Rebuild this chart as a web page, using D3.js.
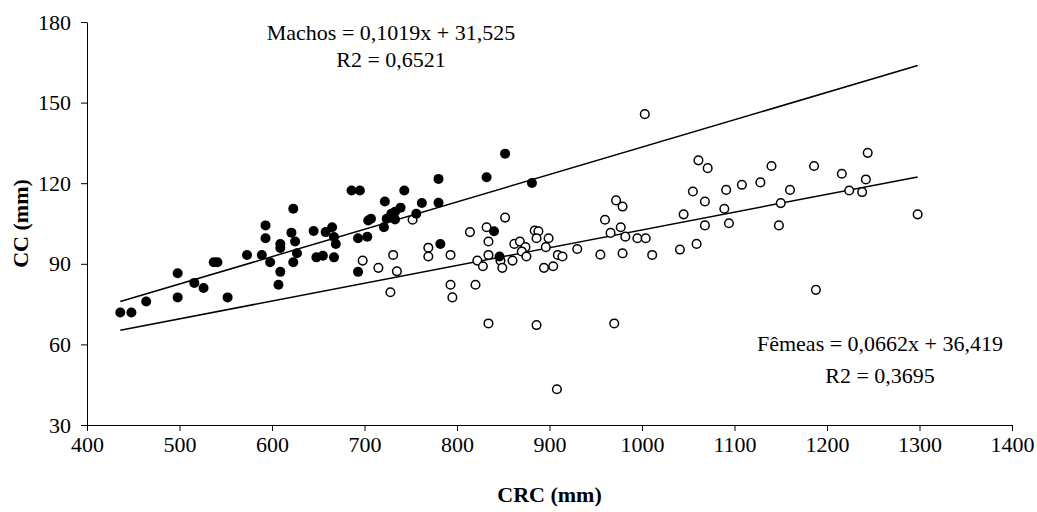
<!DOCTYPE html>
<html>
<head>
<meta charset="utf-8">
<script src="https://cdn.jsdelivr.net/npm/d3@7"></script>
<style>
  body { margin: 0; background: #fff; }
  svg text { font-family: "Liberation Serif", "DejaVu Serif", serif; fill: #000; }
  .axis path, .axis line { stroke: #000; stroke-width: 1; }
  .axis text { font-size: 22px; }
</style>
</head>
<body>
<svg id="chart" width="1037" height="512"></svg>
<script>
// CRC (mm) vs CC (mm), machos = filled, fêmeas = open
const machosCRC = [436, 448, 464, 498, 498, 516, 526, 537, 541, 552, 573, 589, 593, 593, 598,
  609, 609, 609, 607, 623, 621, 625, 627, 623, 645, 648, 655, 667, 658, 665, 667, 669,
  686, 695, 743, 780, 832, 852, 722, 881, 762, 780, 739, 733, 729, 724, 707, 704, 756,
  733, 721, 693, 703, 840, 782, 693, 846];
const machosCC = [71.9, 71.9, 76, 86.5, 77.5, 82.9, 81, 90.6, 90.6, 77.5, 93.3, 93.3, 104.3, 99.5, 90.6,
  97.4, 95.9, 87, 82.2, 110.5, 101.6, 98.3, 93.9, 90.6, 102.2, 92.4, 93, 92.4, 101.8, 103.6, 100, 97.4,
  117.3, 117.3, 117.3, 121.6, 122.2, 131, 113.2, 120.1, 112.6, 112.7, 110.9, 109.4, 108.6, 106.8, 106.8, 106.1, 108.6,
  106.5, 103.6, 99.5, 100.1, 102.1, 97.4, 87, 92.7];

const femeasCRC = [752, 852, 814, 832, 834, 884, 888, 886, 899, 862, 868, 874, 870, 875, 896,
  909, 914, 930, 769, 769, 793, 731, 698, 715, 735, 822, 828, 834, 847, 849, 860, 894, 904,
  728, 793, 795, 820, 834, 886, 908, 1003, 1061, 1071, 1140, 1186, 1216, 1055, 1091, 1108,
  1128, 1160, 972, 979, 1068, 1089, 1150, 1045, 960, 977, 966, 982, 995, 1004, 1068, 1094,
  1148, 955, 979, 1011, 1041, 1059, 1188, 970, 1244, 1242, 1224, 1238, 1298];
const femeasCC = [106.4, 107.2, 101.8, 103.6, 98.3, 102.4, 102.1, 99.5, 99.5, 97.4, 98.3, 96.2, 94.6, 92.7, 96.2,
  93.3, 92.7, 95.5, 96, 92.7, 93.3, 93.3, 91.2, 88.5, 87.2, 91.2, 89.1, 93.3, 91.2, 88.5, 91.2, 88.5, 89.1,
  79.4, 82.2, 77.5, 82.2, 67.8, 67.2, 43.3, 145.7, 128.5, 125.6, 126.4, 126.4, 123.5, 116.9, 117.5, 119.4,
  120.3, 117.5, 113.6, 111.3, 113.2, 110.5, 112.6, 108.4, 106.4, 103.6, 101.5, 100.1, 99.5, 99.5, 104.3, 105.1,
  104.3, 93.4, 93.9, 93.3, 95.3, 97.4, 80.3, 67.8, 131.3, 121.4, 117.3, 116.7, 108.4];

// trendlines (slope, intercept) as printed on the chart
const machosFit = [0.1019, 31.525];
const femeasFit = [0.0662, 36.419];

const xTicks = [400, 500, 600, 700, 800, 900, 1000, 1100, 1200, 1300, 1400];
const yTicks = [30, 60, 90, 120, 150, 180];

const machosLabel = ['Machos = 0,1019x + 31,525', 'R2 = 0,6521'];
const femeasLabel = ['Fêmeas = 0,0662x + 36,419', 'R2 = 0,3695'];

const FONT = '"Liberation Serif", "DejaVu Serif", serif';

const svg = d3.select('#chart');
const margin = { left: 87, right: 25, top: 22, bottom: 87 };
const width = 1037 - margin.left - margin.right,
  height = 512 - margin.top - margin.bottom;

const x = d3.scaleLinear().domain([400, 1400]).range([0, width]);
const y = d3.scaleLinear().domain([30, 180]).range([height, 0]);

const g = svg.append('g')
  .attr('transform', `translate(${margin.left},${margin.top})`);

g.append('g')
  .attr('class', 'axis')
  .attr('transform', `translate(0,${height})`)
  .call(d3.axisBottom(x).tickValues(xTicks).tickSize(6).tickSizeOuter(0).tickPadding(5).tickFormat(d3.format('d')));

g.append('g')
  .attr('class', 'axis')
  .call(d3.axisLeft(y).tickValues(yTicks).tickSize(6).tickSizeOuter(0).tickPadding(10).tickFormat(d3.format('d')));

g.selectAll('.axis').attr('font-family', FONT).attr('font-size', 22);
g.selectAll('.axis text').attr('fill', '#000');

// axis titles
svg.append('text')
  .attr('x', margin.left + width / 2)
  .attr('y', 502)
  .attr('text-anchor', 'middle')
  .attr('font-family', FONT)
  .style('font-size', '22px')
  .style('font-weight', 'bold')
  .text('CRC (mm)');

svg.append('text')
  .attr('transform', `translate(28,${margin.top + height / 2}) rotate(-90)`)
  .attr('text-anchor', 'middle')
  .attr('font-family', FONT)
  .style('font-size', '22px')
  .style('font-weight', 'bold')
  .text('CC (mm)');

// trendlines over the x range of all data
const xExt = d3.extent(machosCRC.concat(femeasCRC));
const line = d3.line().x(d => x(d[0])).y(d => y(d[1]));
[machosFit, femeasFit].forEach(([m, b]) => {
  g.append('path')
    .datum(xExt.map(v => [v, m * v + b]))
    .attr('d', line)
    .attr('fill', 'none')
    .attr('stroke', '#000')
    .attr('stroke-width', 1.5);
});

// points
g.selectAll('circle.femea')
  .data(d3.zip(femeasCRC, femeasCC))
  .enter().append('circle')
    .attr('class', 'femea')
    .attr('cx', d => x(d[0]))
    .attr('cy', d => y(d[1]))
    .attr('r', 4.3)
    .attr('fill', '#fff')
    .attr('stroke', '#000')
    .attr('stroke-width', 1.5);

g.selectAll('circle.macho')
  .data(d3.zip(machosCRC, machosCC))
  .enter().append('circle')
    .attr('class', 'macho')
    .attr('cx', d => x(d[0]))
    .attr('cy', d => y(d[1]))
    .attr('r', 5)
    .attr('fill', '#000');

// equation labels
const addLabel = (lines, cx, y0, gap) => {
  svg.append('g').selectAll('text')
    .data(lines)
    .enter().append('text')
      .attr('x', cx)
      .attr('y', (d, i) => y0 + i * gap)
      .attr('text-anchor', 'middle')
      .attr('font-family', FONT)
      .style('font-size', '22px')
      .text(d => d);
};
addLabel(machosLabel, 391, 40, 27);
addLabel(femeasLabel, 880, 351, 32);
</script>
</body>
</html>
